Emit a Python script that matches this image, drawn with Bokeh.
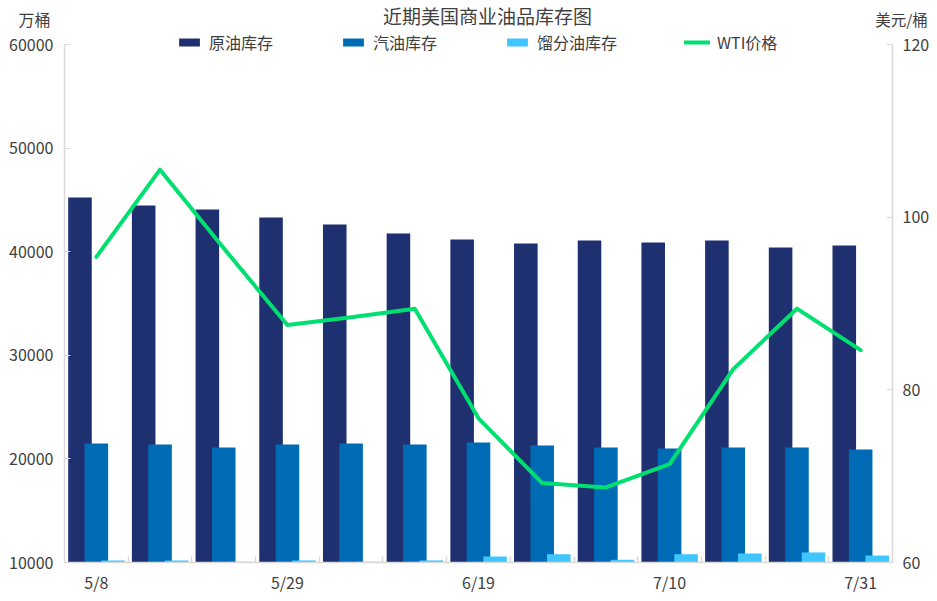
from bokeh.plotting import figure
from bokeh.models import ColumnDataSource, Range1d, LinearAxis, FixedTicker, Legend, LegendItem, Label
from bokeh.transform import dodge
from bokeh.embed import file_html
from bokeh.resources import INLINE

# ---- data ----
dates = ["5/8", "5/15", "5/22", "5/29", "6/5", "6/12", "6/19",
         "6/26", "7/3", "7/10", "7/17", "7/24", "7/31"]
crude = [45230, 44460, 44070, 43300, 42630, 41760, 41180,
         40790, 41080, 40890, 41080, 40400, 40600]
gasoline = [21490, 21390, 21100, 21390, 21490, 21390, 21590,
            21300, 21100, 21000, 21100, 21100, 20900]
distillate = [10200, 10200, 10070, 10200, 10070, 10200, 10580,
              10800, 10260, 10800, 10870, 10970, 10670]
wti = [95.4, 105.5, 96.4, 87.5, 88.4, 89.4, 76.7,
       69.2, 68.7, 71.4, 82.4, 89.4, 84.6]
left_ticks = [10000, 20000, 30000, 40000, 50000, 60000]
right_ticks = [60, 80, 100, 120]
label_every = 3

FONT = "Noto Sans CJK SC"
TXT = "#404040"
AXC = "#D9D9D9"

# ---- layout in pixels: the frame covers the whole canvas, axes sit at fixed locations ----
W, H = 937, 601
PL, PR, PT, PB = 64, 892, 44, 562     # plot-area edges (axis lines)
n = len(dates)
cat_px = (PR - PL) / n
x_start = -0.5 - PL / cat_px
x_end = n - 0.5 + (W - PR) / cat_px
lo, hi = left_ticks[0], left_ticks[-1]
rlo, rhi = right_ticks[0], right_ticks[-1]
span_px = PB - PT
y_start = lo - (H - PB) * (hi - lo) / span_px
y_end = hi + PT * (hi - lo) / span_px
r_start = rlo - (H - PB) * (rhi - rlo) / span_px
r_end = rhi + PT * (rhi - rlo) / span_px

idx = list(range(n))
src = ColumnDataSource(dict(x=idx, crude=crude, gas=gasoline, dist=distillate, wti=wti))

p = figure(width=W, height=H, output_backend="svg", toolbar_location=None,
           x_range=Range1d(x_start, x_end), y_range=Range1d(y_start, y_end),
           x_axis_location=None, y_axis_location=None, min_border=0,
           background_fill_color="white", border_fill_color="white")
p.outline_line_color = None
p.grid.visible = False
p.extra_y_ranges = {"price": Range1d(r_start, r_end)}

bw = 0.37
r1 = p.vbar(x=dodge("x", -0.257), top="crude", bottom=lo, width=bw, source=src,
            fill_color="#1F3071", line_color=None)
r2 = p.vbar(x=dodge("x", 0.0), top="gas", bottom=lo, width=bw, source=src,
            fill_color="#006BB5", line_color=None)
r3 = p.vbar(x=dodge("x", 0.26), top="dist", bottom=lo, width=bw, source=src,
            fill_color="#40C6FF", line_color=None)
r4 = p.line(x="x", y="wti", source=src, y_range_name="price",
            line_color="#00E070", line_width=4, line_join="round", line_cap="round")

# x axis
major = [i for i in idx if i % label_every == 0]
xa = LinearAxis(ticker=FixedTicker(ticks=major, minor_ticks=[i + 0.5 for i in idx[:-1]]),
                fixed_location=lo, bounds=(-0.5, n - 0.5))
xa.major_label_overrides = {i: dates[i] for i in major}
xa.major_tick_in = 0
xa.major_tick_out = 0
xa.minor_tick_in = 6
xa.minor_tick_out = 0
xa.minor_tick_line_color = AXC
xa.minor_tick_line_width = 1.5
xa.axis_line_color = AXC
xa.axis_line_width = 1.5
xa.major_label_standoff = 7
xa.major_label_text_font = FONT
xa.major_label_text_font_size = "16px"
xa.major_label_text_color = TXT
p.add_layout(xa, "below")

# left axis
ya = LinearAxis(ticker=FixedTicker(ticks=left_ticks), fixed_location=-0.5, bounds=(lo, hi))
ya.major_tick_in = 6
ya.major_tick_out = 0
ya.minor_tick_line_color = None
ya.major_tick_line_color = AXC
ya.axis_line_color = AXC
ya.axis_line_width = 1.5
ya.major_label_standoff = 11
ya.major_label_text_font = FONT
ya.major_label_text_font_size = "16px"
ya.major_label_text_color = TXT
p.add_layout(ya, "left")

# right axis
ra = LinearAxis(y_range_name="price", ticker=FixedTicker(ticks=right_ticks),
                fixed_location=n - 0.5, bounds=(rlo, rhi))
ra.major_tick_in = 6
ra.major_tick_out = 0
ra.minor_tick_line_color = None
ra.major_tick_line_color = AXC
ra.axis_line_color = AXC
ra.axis_line_width = 1.5
ra.major_label_standoff = 10
ra.major_label_text_font = FONT
ra.major_label_text_font_size = "16px"
ra.major_label_text_color = TXT
p.add_layout(ra, "right")

# legend centred on the top tick line
leg_h = 20
legend = Legend(items=[LegendItem(label="原油库存", renderers=[r1]),
                       LegendItem(label="汽油库存", renderers=[r2]),
                       LegendItem(label="馏分油库存", renderers=[r3]),
                       LegendItem(label="WTI价格", renderers=[r4])],
                orientation="horizontal",
                location=(176, H - PT - leg_h / 2),
                glyph_width=26, glyph_height=10, label_standoff=7, spacing=67,
                padding=0, margin=0, border_line_color=None, background_fill_alpha=0,
                label_text_font=FONT, label_text_font_size="16px",
                label_text_color=TXT, label_height=leg_h)
legend.click_policy = "none"
p.add_layout(legend, "center")

# texts (screen units from the canvas' bottom-left corner)
def add_text(cx, cy, txt, size):
    p.add_layout(Label(x=cx, y=H - cy, x_units="screen", y_units="screen", text=txt,
                       text_font=FONT, text_font_size=size, text_color=TXT,
                       text_align="center", text_baseline="middle"))

add_text(487, 15, "近期美国商业油品库存图", "19px")
add_text(34, 18, "万桶", "16px")
add_text(901, 18, "美元/桶", "15.5px")

open("out.html", "w").write(file_html(p, INLINE))
